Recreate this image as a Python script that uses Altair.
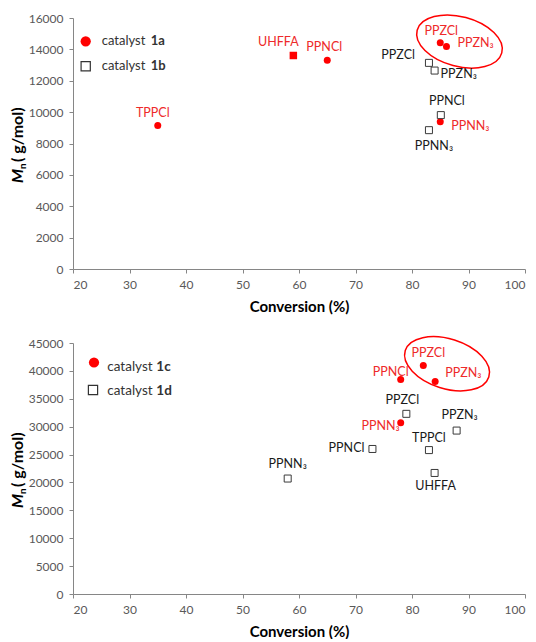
import altair as alt
import pandas as pd

# ---------------- data ----------------
x_ticks = [20, 30, 40, 50, 60, 70, 80, 90, 100]

# top panel: catalyst 1a (red) / 1b (open squares)
top_y_ticks = [0, 2000, 4000, 6000, 8000, 10000, 12000, 14000, 16000]
top_1a_names = ["TPPCl", "PPNCl", "PPZCl", "PPZN₃", "PPNN₃"]
top_1a_conv = [35.0, 65.0, 85.0, 86.1, 85.0]
top_1a_mn = [9150, 13300, 14420, 14190, 9390]
top_1a_sq_names = ["UHFFA"]
top_1a_sq_conv = [59.0]
top_1a_sq_mn = [13610]
top_1b_names = ["PPZCl", "PPZN₃", "PPNCl", "PPNN₃"]
top_1b_conv = [83.0, 84.0, 85.1, 83.0]
top_1b_mn = [13140, 12650, 9810, 8850]
top_ellipse_conv = [88.4]
top_ellipse_mn = [14500]

# bottom panel: catalyst 1c (red) / 1d (open squares)
bot_y_ticks = [0, 5000, 10000, 15000, 20000, 25000, 30000, 35000, 40000, 45000]
bot_1c_names = ["PPZCl", "PPNCl", "PPZN₃", "PPNN₃"]
bot_1c_conv = [82.0, 78.0, 84.1, 78.0]
bot_1c_mn = [40950, 38450, 38100, 30700]
bot_1d_names = ["PPZCl", "PPZN₃", "TPPCl", "PPNCl", "UHFFA", "PPNN₃"]
bot_1d_conv = [79.0, 87.9, 83.0, 73.0, 84.0, 58.0]
bot_1d_mn = [32300, 29300, 25800, 26000, 21700, 20700]
bot_ellipse_conv = [86.2]
bot_ellipse_mn = [41280]

# ---------------- layout (label offsets in px: align, dx, dy) ----------------
top_1a_off = {"TPPCl": ("center", -5, -12), "PPNCl": ("center", -3, -13),
              "PPZCl": ("center", 1, -12), "PPZN₃": ("left", 11, -3),
              "PPNN₃": ("left", 11, 4)}
top_1a_sq_off = {"UHFFA": ("center", -15, -13)}
top_1b_off = {"PPZCl": ("right", -14, -8), "PPZN₃": ("left", 6, 3),
              "PPNCl": ("center", 6, -14), "PPNN₃": ("center", 5, 16)}
bot_1c_off = {"PPZCl": ("center", 5, -13), "PPNCl": ("center", -10, -8),
              "PPZN₃": ("left", 10, -8), "PPNN₃": ("right", -1, 3)}
bot_1d_off = {"PPZCl": ("center", -4, -14), "PPZN₃": ("center", 3, -16),
              "TPPCl": ("center", 0, -12), "PPNCl": ("right", -8, -1),
              "UHFFA": ("center", 1, 13), "PPNN₃": ("center", 0, -15)}

W = 452
H = 251
RED = "#ff0000"
RED_TXT = "#ee2a2a"
BLK_TXT = "#1a1a1a"
FONT = "Lato"
ELLIPSE = ("M1,0C1,0.3132,0.5523,0.567,0,0.567C-0.5523,0.567,-1,0.3132,-1,0"
           "C-1,-0.3132,-0.5523,-0.567,0,-0.567C0.5523,-0.567,1,-0.3132,1,0Z")


def pts(xs, ys):
    return pd.DataFrame({"x": xs, "y": ys})


def labels(names, xs, ys, offs, ypx):
    rows = []
    for n, x, y in zip(names, xs, ys):
        a, dx, dy = offs[n]
        rows.append({"name": n, "x": x + dx * 80 / W, "y": y - dy * ypx, "al": a})
    return pd.DataFrame(rows)


def panel(ymax, yticks, red, redsq, opn, lab_dfs, ell, ell_angle, leg):
    xenc = alt.X("x:Q", scale=alt.Scale(domain=[20, 100], nice=False, zero=False),
                 axis=alt.Axis(values=x_ticks, title="Conversion (%)", grid=False))
    yenc = alt.Y("y:Q", scale=alt.Scale(domain=[0, ymax], nice=False),
                 axis=alt.Axis(values=yticks, title=None, format="d", grid=False))
    layers = []
    layers.append(alt.Chart(red).mark_point(shape="circle", filled=True, color=RED,
                                            size=49, opacity=1).encode(x=xenc, y=yenc))
    if redsq is not None:
        layers.append(alt.Chart(redsq).mark_point(shape="square", filled=True, color=RED,
                                                  size=56, opacity=1).encode(x=xenc, y=yenc))
    layers.append(alt.Chart(opn).mark_point(shape="square", filled=True, fill="white",
                                            stroke="#3a3a3a", strokeWidth=1, size=49,
                                            opacity=1).encode(x=xenc, y=yenc))
    layers.append(alt.Chart(ell).mark_point(shape=ELLIPSE, filled=False, stroke=RED,
                                            strokeWidth=1.5, size=7674, angle=ell_angle,
                                            opacity=1).encode(x=xenc, y=yenc))
    for df, col in lab_dfs:
        for a in ["left", "center", "right"]:
            layers.append(alt.Chart(df).transform_filter(alt.datum.al == a).mark_text(
                align=a, baseline="middle", font=FONT, fontSize=12.5, color=col
            ).encode(x=xenc, y=yenc, text="name:N"))
    # y title
    ytl = [("M", 0, 16, "italic", "bold", 165), ("n", 5, 10, "normal", "bold", 151),
           ("( g/mol)", 0, 16, "normal", "bold", 144)]
    for t, dxo, fs, st, wt, yy in ytl:
        layers.append(alt.Chart(pd.DataFrame({"t": [t]})).mark_text(
            align="left", baseline="middle", angle=270, font=FONT, fontSize=fs,
            fontStyle=st, fontWeight=wt, color="#000000"
        ).encode(x=alt.value(-55 + dxo), y=alt.value(yy), text="t:N"))
    # legend
    (t1, t2, cx, cy, sx, sy, tx, bx, fs, ty1, ty2) = leg
    layers.append(alt.Chart(pd.DataFrame({"t": [t1]})).mark_point(
        shape="circle", filled=True, color=RED, size=105, opacity=1
    ).encode(x=alt.value(cx), y=alt.value(cy)))
    layers.append(alt.Chart(pd.DataFrame({"t": [t2]})).mark_point(
        shape="square", filled=False, stroke="#333333", strokeWidth=1.2, size=85, opacity=1
    ).encode(x=alt.value(sx), y=alt.value(sy)))
    for t, yy in [(t1, ty1), (t2, ty2)]:
        layers.append(alt.Chart(pd.DataFrame({"t": ["catalyst"]})).mark_text(
            align="left", baseline="middle", font=FONT, fontSize=fs, color="#333333"
        ).encode(x=alt.value(tx), y=alt.value(yy), text="t:N"))
        layers.append(alt.Chart(pd.DataFrame({"t": [t]})).mark_text(
            align="left", baseline="middle", font=FONT, fontSize=fs, fontWeight="bold",
            color="#333333"
        ).encode(x=alt.value(bx), y=alt.value(yy), text="t:N"))
    return alt.layer(*layers).properties(width=W, height=H)


tpx = 16000 / H
top = panel(
    16000, top_y_ticks,
    pts(top_1a_conv, top_1a_mn), pts(top_1a_sq_conv, top_1a_sq_mn),
    pts(top_1b_conv, top_1b_mn),
    [(labels(top_1a_names, top_1a_conv, top_1a_mn, top_1a_off, tpx), RED_TXT),
     (labels(top_1a_sq_names, top_1a_sq_conv, top_1a_sq_mn, top_1a_sq_off, tpx), RED_TXT),
     (labels(top_1b_names, top_1b_conv, top_1b_mn, top_1b_off, tpx), BLK_TXT)],
    pts(top_ellipse_conv, top_ellipse_mn), 15,
    ("1a", "1b", 12.7, 23.3, 12.7, 48.3, 28.7, 77.7, 13, 23.3, 48.3),
)

bpx = 45000 / H
bottom = panel(
    45000, bot_y_ticks,
    pts(bot_1c_conv, bot_1c_mn), None,
    pts(bot_1d_conv, bot_1d_mn),
    [(labels(bot_1c_names, bot_1c_conv, bot_1c_mn, bot_1c_off, bpx), RED_TXT),
     (labels(bot_1d_names, bot_1d_conv, bot_1d_mn, bot_1d_off, bpx), BLK_TXT)],
    pts(bot_ellipse_conv, bot_ellipse_mn), 17.5,
    ("1c", "1d", 21, 19.5, 20, 47, 34.3, 83.3, 13.5, 23.5, 47.7),
)

chart = alt.vconcat(top, bottom, spacing=19).properties(
    padding={"left": 10, "top": 11, "right": 0, "bottom": 0}
).configure_view(stroke=None).configure_axis(
    domainColor="#868686", tickColor="#868686", tickSize=4, labelColor="#595959",
    labelFont=FONT, labelFontSize=12, labelPadding=6, titleFont=FONT,
    titleFontSize=15, titleFontWeight="bold", titleColor="#000000", titlePadding=9,
)

chart.save("out.html", embed_options={"renderer": "svg", "actions": False})
